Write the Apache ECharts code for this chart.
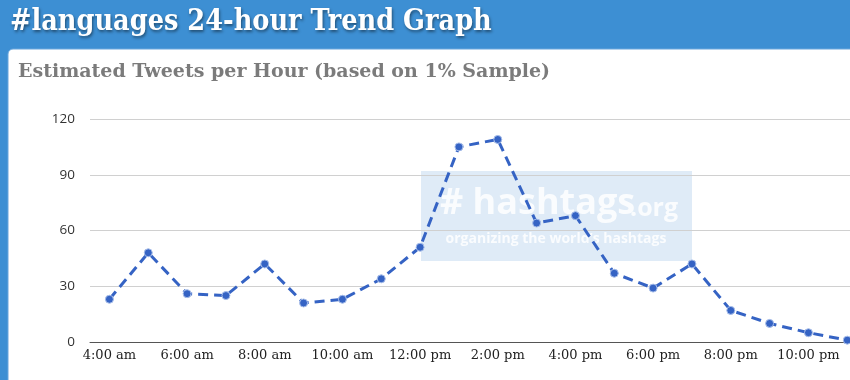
<!DOCTYPE html>
<html>
<head>
<meta charset="utf-8">
<script src="https://cdn.jsdelivr.net/npm/echarts@6/dist/echarts.min.js"></script>
<style>
html,body{margin:0;padding:0;background:#3d8fd3;}
#chart{width:850px;height:380px;}
</style>
</head>
<body>
<div id="chart"></div>
<script>
// Hours of the day (24h clock) and estimated tweets per hour
const hours = [4,5,6,7,8,9,10,11,12,13,14,15,16,17,18,19,20,21,22,23];
const tweets = [23,48,26,25,42,21,23,34,51,105,109,64,68,37,29,42,17,10,5,1];
const tickHours = [4,6,8,10,12,14,16,18,20,22];
const tickLabels = ['4:00 am','6:00 am','8:00 am','10:00 am','12:00 pm','2:00 pm','4:00 pm','6:00 pm','8:00 pm','10:00 pm'];
const titleText = '#languages 24-hour Trend Graph';
const subtitleText = 'Estimated Tweets per Hour (based on 1% Sample)';

const chart = echarts.init(document.getElementById('chart'), null, {renderer:'canvas'});
const seriesData = hours.map((h,i)=>[h,tweets[i]]);
const labelMap = {};
tickHours.forEach((h,i)=>{labelMap[h]=tickLabels[i];});

chart.setOption({
  backgroundColor:'#3d8fd3',
  animation:false,
  grid:{left:90,right:0,top:119,bottom:38,containLabel:false},
  xAxis:{
    type:'value', min:3.5, max:23.07,
    splitLine:{show:false},
    axisLine:{show:true,onZero:false,lineStyle:{color:'#555',width:1}},
    axisTick:{show:false},
    axisLabel:{
      customValues:tickHours,
      formatter:(v)=>labelMap[v]||'',
      color:'#222', fontFamily:'DejaVu Serif', fontSize:13, margin:7
    }
  },
  yAxis:{
    type:'value', min:0, max:120, interval:30,
    axisLine:{show:false}, axisTick:{show:false},
    splitLine:{lineStyle:{color:'#d0d0d0',width:1}},
    axisLabel:{color:'#333', fontFamily:'Open Sans', fontSize:13.5, margin:15}
  },
  series:[{
    type:'line', data:seriesData, clip:false,
    lineStyle:{color:'#3563c4', width:3, type:[10,6]},
    symbol:'circle', symbolSize:8,
    itemStyle:{color:'#3563c4', borderColor:'#a9bfea', borderWidth:1},
    z:3
  }],
  graphic:[
    {type:'rect', z:-10, shape:{x:8,y:49,width:850,height:340,r:[5,0,0,0]}, style:{fill:'#ffffff', stroke:'#6aa6dc', lineWidth:1}},
    {type:'text', x:10, y:22, scaleX:0.855, z:10, style:{text:titleText, fill:'#ffffff', font:'bold 30px "DejaVu Serif"', verticalAlign:'middle', textShadowColor:'rgba(0,0,0,0.45)', textShadowOffsetX:1, textShadowOffsetY:2, textShadowBlur:3}},
    {type:'text', x:18, y:72, z:10, style:{text:subtitleText, fill:'#7b7b7b', font:'bold 19px "DejaVu Serif"', verticalAlign:'middle'}},
    {type:'group', z:100, children:[
      {type:'rect', shape:{x:421,y:171,width:271,height:90}, style:{fill:'rgba(196,218,241,0.55)'}},
      {type:'text', x:440, y:204, style:{text:'# hashtags', fill:'rgba(255,255,255,0.85)', font:'bold 36px "Open Sans"', verticalAlign:'middle'}},
      {type:'text', x:630, y:209, style:{text:'.org', fill:'rgba(255,255,255,0.85)', font:'bold 25px "Open Sans"', verticalAlign:'middle'}},
      {type:'text', x:556, y:239, style:{text:'organizing the world\u2019s hashtags', fill:'rgba(255,255,255,0.85)', font:'bold 14px "Open Sans"', align:'center', verticalAlign:'middle'}}
    ]}
  ]
});
</script>
</body>
</html>
